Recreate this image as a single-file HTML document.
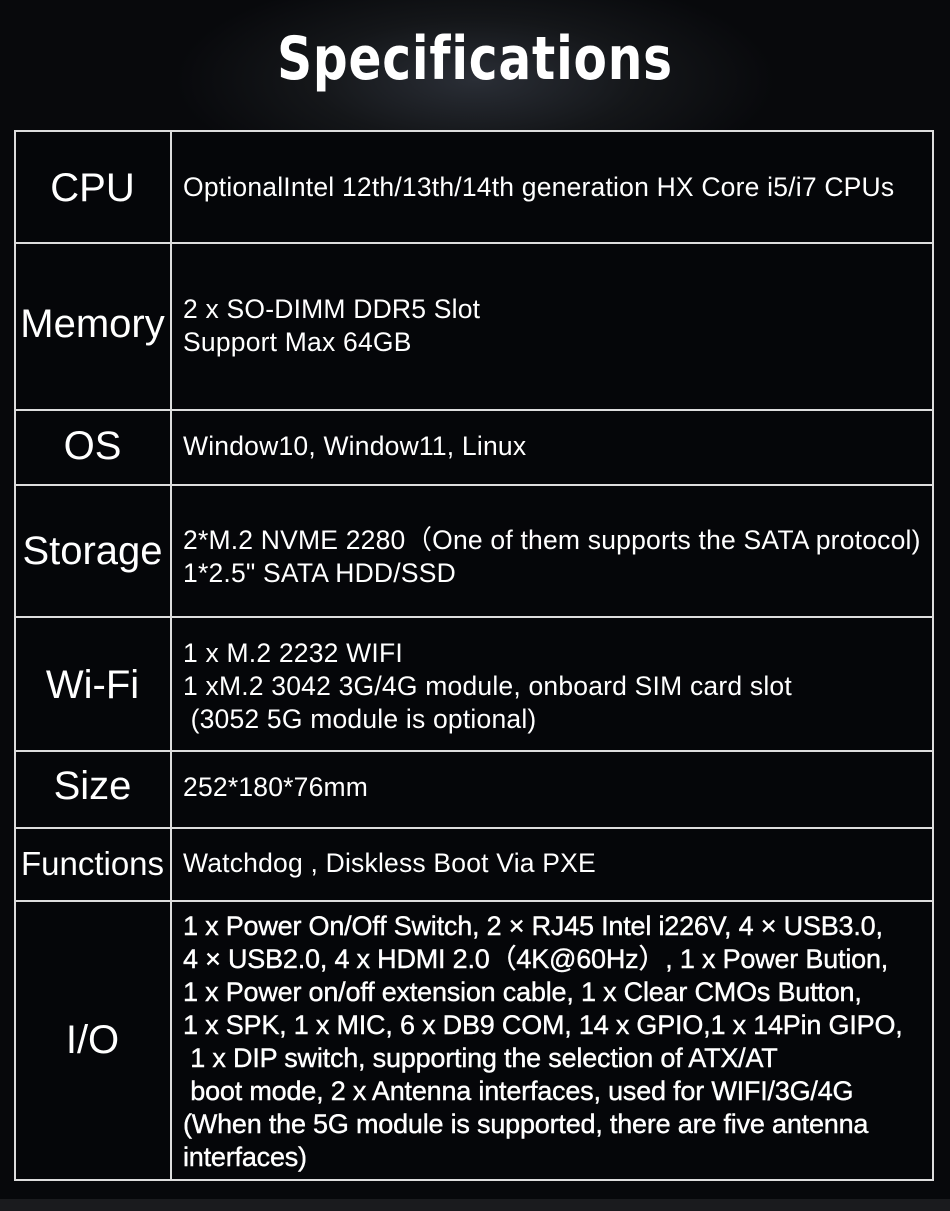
<!DOCTYPE html>
<html><head><meta charset="utf-8"><style>
*{margin:0;padding:0;box-sizing:border-box}
body{width:950px;height:1211px;background:#07080b;position:relative;overflow:hidden;font-family:"Liberation Sans",sans-serif;color:#fff}
.hdr{position:absolute;left:0;top:0;width:950px;height:130px;background:radial-gradient(ellipse 300px 110px at 475px 80px,#2a2e36 0%,#141619 55%,#08090c 100%)}
h1{position:absolute;left:0;width:950px;top:24px;text-align:center;font-size:60px;font-weight:bold;letter-spacing:1px;font-family:"DejaVu Sans","Liberation Sans",sans-serif;transform:scaleX(0.81)}
.tbl{position:absolute;left:14px;top:130px;width:920px;height:1051px;border:2px solid #ddd;background:#050609}
.v{position:absolute;left:170px;top:130px;width:2px;height:1051px;background:#ddd}
.h{position:absolute;left:14px;width:920px;height:2px;background:#ddd}
.l{position:absolute;left:14px;width:157px;text-align:center;font-size:40px}
.t{position:absolute;left:183px;font-size:26.5px;line-height:33px;white-space:nowrap;letter-spacing:0.2px}
.io{position:absolute;left:183px;top:910px;font-size:27px;line-height:33px;white-space:nowrap;letter-spacing:-0.2px;-webkit-text-stroke:0.4px #fff}
.bot{position:absolute;left:0;top:1199px;width:950px;height:12px;background:#1a1b1e}
</style></head><body>
<div class="hdr"></div>
<h1>Specifications</h1>
<div class="tbl"></div>
<div class="v"></div>
<div class="h" style="top:242px"></div>
<div class="h" style="top:409px"></div>
<div class="h" style="top:484px"></div>
<div class="h" style="top:616px"></div>
<div class="h" style="top:750px"></div>
<div class="h" style="top:827px"></div>
<div class="h" style="top:900px"></div>
<div class="l" style="top:166px">CPU</div>
<div class="t" style="top:171px">OptionalIntel 12th/13th/14th generation HX Core i5/i7 CPUs</div>
<div class="l" style="top:302px">Memory</div>
<div class="t" style="top:293px">2 x SO-DIMM DDR5 Slot<br>Support Max 64GB</div>
<div class="l" style="top:424px">OS</div>
<div class="t" style="top:430px">Window10, Window11, Linux</div>
<div class="l" style="top:529px">Storage</div>
<div class="t" style="top:524px">2*M.2 NVME 2280（One of them supports the SATA protocol)<br>1*2.5" SATA HDD/SSD</div>
<div class="l" style="top:663px">Wi-Fi</div>
<div class="t" style="top:637px">1 x M.2 2232 WIFI<br>1 xM.2 3042 3G/4G module, onboard SIM card slot<br>&nbsp;(3052 5G module is optional)</div>
<div class="l" style="top:764px">Size</div>
<div class="t" style="top:771px">252*180*76mm</div>
<div class="l" style="top:845px;font-size:33px">Functions</div>
<div class="t" style="top:847px">Watchdog , Diskless Boot Via PXE</div>
<div class="l" style="top:1018px">I/O</div>
<div class="io">1 x Power On/Off Switch, 2 × RJ45 Intel i226V, 4 × USB3.0,<br>4 × USB2.0, 4 x HDMI 2.0（4K@60Hz）, 1 x Power Bution,<br>1 x Power on/off extension cable, 1 x Clear CMOs Button,<br>1 x SPK, 1 x MIC, 6 x DB9 COM, 14 x GPIO,1 x 14Pin GIPO,<br>&nbsp;1 x DIP switch, supporting the selection of ATX/AT<br>&nbsp;boot mode, 2 x Antenna interfaces, used for WIFI/3G/4G<br>(When the 5G module is supported, there are five antenna<br>interfaces)</div>
<div class="bot"></div>
</body></html>
